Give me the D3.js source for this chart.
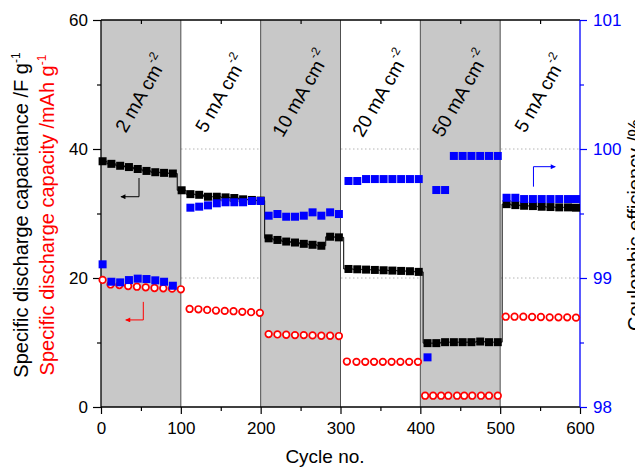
<!DOCTYPE html>
<html><head><meta charset="utf-8">
<script src="https://cdn.jsdelivr.net/npm/d3@7"></script>
<style>
body{margin:0;background:#fff}
svg{display:block}
text{font-family:"Liberation Sans",Arial,Helvetica,sans-serif}
</style>
</head><body>
<svg id="chart" width="635" height="470"></svg>
<script>
// ---------------- data ----------------
const capCycles = [2,13,24,35,46,57,68,79,90,
  101,112,123,134,145,156,167,178,189,200,
  210,221,232,243,254,265,276,287,298,
  310,321,332,343,354,365,376,387,398,
  409,420,431,442,453,464,475,486,497,
  508,519,530,541,552,563,574,585,595];
const capValues = [38.1,37.7,37.4,37.2,36.9,36.6,36.4,36.3,36.2,
  33.6,33.0,32.9,32.6,32.6,32.5,32.4,32.2,32.1,32.0,
  26.15,25.9,25.65,25.5,25.3,25.15,25.0,26.4,26.3,
  21.4,21.35,21.3,21.25,21.2,21.15,21.1,21.05,20.95,
  9.9,9.9,10.05,10.05,10.05,10.05,10.15,10.05,10.05,
  31.45,31.3,31.2,31.15,31.05,31.0,30.95,30.95,30.9];

const capyCycles = [2,12,23,34,45,56,67,78,89,100,
  111,122,133,144,155,166,177,188,199,
  210,221,232,243,254,265,276,287,298,
  308,320,331,342,353,364,375,386,397,
  406,416,426,435,446,455,465,476,486,497,
  507,518,529,540,551,562,573,584,595];
const capyValues = [19.7,19.0,18.9,18.75,18.65,18.55,18.45,18.4,18.35,18.25,
  15.2,15.15,15.05,14.95,14.9,14.85,14.75,14.7,14.6,
  11.3,11.25,11.2,11.15,11.15,11.1,11.05,11.05,11.0,
  7.05,7.0,7.0,7.0,7.0,7.0,7.0,7.0,7.0,
  1.75,1.75,1.75,1.75,1.75,1.75,1.75,1.75,1.75,1.75,
  14.0,14.0,14.0,13.95,13.95,13.9,13.9,13.9,13.85];

const ceCycles = [2,13,24,35,46,57,68,79,90,
  112,123,134,145,156,167,178,189,200,
  210,221,232,243,254,265,276,287,298,
  310,321,332,343,354,365,376,387,398,
  409,420,431,442,453,464,475,486,497,
  508,519,530,541,552,563,574,585,595];
const ceValues = [99.106,98.971,98.966,98.984,98.995,98.992,98.982,98.971,98.94,
  99.545,99.553,99.563,99.579,99.587,99.587,99.587,99.597,99.597,
  99.483,99.496,99.475,99.475,99.483,99.509,99.483,99.509,99.496,
  99.752,99.752,99.767,99.767,99.767,99.767,99.767,99.767,99.767,
  98.385,99.682,99.682,99.946,99.946,99.946,99.946,99.946,99.946,
  99.622,99.622,99.612,99.612,99.612,99.612,99.612,99.612,99.612];

const shadedStarts = [0,200,400];
const regionEdges = [100,200,300,400,500];
const currentLabels = ["2","5","10","20","50","5"];
const labelCycles = [50,150,250,350,450,550];
const xMajor = [0,100,200,300,400,500,600];
const xMinor = [50,150,250,350,450,550];
const yLMajor = [0,20,40,60];
const yLMinor = [10,30,50];
const yRMajor = [98,99,100,101];
const yRMinor = [98.5,99.5,100.5];
const gridValues = [20,40];

// ---------------- setup ----------------
const BLUE = "#0000ff", RED = "#ff0000";
const svg = d3.select("#chart");
const x = d3.scaleLinear().domain([0,600]).range([101,580]);
const yL = d3.scaleLinear().domain([0,60]).range([407,20]);
const yR = d3.scaleLinear().domain([98,101]).range([407,20]);
const fmt = d3.format("d");

// grid
svg.append("g").selectAll("line").data(gridValues).join("line")
  .attr("x1", x(0)).attr("x2", x(600))
  .attr("y1", d=>yL(d)).attr("y2", d=>yL(d))
  .attr("stroke","#b4b4b4").attr("stroke-width",1).attr("stroke-dasharray","1.5,2.5");

// shaded regions
svg.append("g").selectAll("rect").data(shadedStarts).join("rect")
  .attr("x", d=>x(d)).attr("width", d=>x(d+100)-x(d))
  .attr("y", yL(60)).attr("height", yL(0)-yL(60))
  .attr("fill","#c8c8c8");

// region edges
svg.append("g").selectAll("line").data(regionEdges).join("line")
  .attr("x1", d=>x(d)).attr("x2", d=>x(d))
  .attr("y1", yL(60)).attr("y2", yL(0))
  .attr("stroke","#505050").attr("stroke-width",1);

// axes
function styleAxis(g, color, fs){
  g.select(".domain").remove();
  g.selectAll("line").attr("stroke", color).attr("stroke-width",1.2);
  g.selectAll("text").attr("fill", color).attr("font-size", fs)
    .attr("font-family","Liberation Sans, Arial, sans-serif");
}
svg.append("g").attr("transform",`translate(${x(0)},0)`)
  .call(d3.axisLeft(yL).tickValues(yLMajor).tickFormat(fmt).tickSize(8).tickPadding(5).tickSizeOuter(0))
  .call(g=>styleAxis(g,"#000",17));
svg.append("g").attr("transform",`translate(${x(0)},0)`)
  .call(d3.axisLeft(yL).tickValues(yLMinor).tickSize(4).tickFormat("").tickSizeOuter(0))
  .call(g=>styleAxis(g,"#000",17));
svg.append("g").attr("transform",`translate(0,${yL(0)})`)
  .call(d3.axisBottom(x).tickValues(xMajor).tickFormat(fmt).tickSize(7).tickPadding(8).tickSizeOuter(0))
  .call(g=>styleAxis(g,"#000",17));
svg.append("g").attr("transform",`translate(0,${yL(0)})`)
  .call(d3.axisBottom(x).tickValues(xMinor).tickSize(4).tickFormat("").tickSizeOuter(0))
  .call(g=>styleAxis(g,"#000",17));
// top ticks (inward)
svg.append("g").attr("transform",`translate(0,${yL(60)})`)
  .call(d3.axisBottom(x).tickValues(xMinor).tickSize(4).tickFormat("").tickSizeOuter(0))
  .call(g=>styleAxis(g,"#000",17));
svg.append("g").attr("transform",`translate(${x(600)},0)`)
  .call(d3.axisRight(yR).tickValues(yRMajor).tickFormat(fmt).tickSize(7).tickPadding(6).tickSizeOuter(0))
  .call(g=>styleAxis(g,BLUE,17));
svg.append("g").attr("transform",`translate(${x(600)},0)`)
  .call(d3.axisRight(yR).tickValues(yRMinor).tickSize(4).tickFormat("").tickSizeOuter(0))
  .call(g=>styleAxis(g,BLUE,17));

// frame
const fr = svg.append("g").attr("stroke-width",1.3).attr("fill","none");
fr.append("line").attr("x1",x(0)).attr("x2",x(600)).attr("y1",yL(60)).attr("y2",yL(60)).attr("stroke","#000");
fr.append("line").attr("x1",x(0)).attr("x2",x(600)).attr("y1",yL(0)).attr("y2",yL(0)).attr("stroke","#000");
fr.append("line").attr("x1",x(0)).attr("x2",x(0)).attr("y1",yL(0)).attr("y2",yL(60)).attr("stroke","#000");
fr.append("line").attr("x1",x(600)).attr("x2",x(600)).attr("y1",yL(0)).attr("y2",yL(60)).attr("stroke",BLUE);

// data
const cap = capCycles.map((c,i)=>({c, v:capValues[i]}));
const capy = capyCycles.map((c,i)=>({c, v:capyValues[i]}));
const ce = ceCycles.map((c,i)=>({c, v:ceValues[i]}));

svg.append("path").datum(cap)
  .attr("d", d3.line().x(d=>x(d.c)).y(d=>yL(d.v)).curve(d3.curveStep))
  .attr("fill","none").attr("stroke","#000").attr("stroke-width",1);

const S = 8;
svg.append("g").selectAll("rect").data(cap).join("rect")
  .attr("x", d=>x(d.c)-S/2).attr("y", d=>yL(d.v)-S/2)
  .attr("width",S).attr("height",S).attr("fill","#000");

svg.append("g").selectAll("circle").data(capy).join("circle")
  .attr("cx", d=>x(d.c)).attr("cy", d=>yL(d.v)).attr("r",3.3)
  .attr("fill","#fff").attr("stroke",RED).attr("stroke-width",1.7);

svg.append("g").selectAll("rect").data(ce).join("rect")
  .attr("x", d=>x(d.c)-S/2).attr("y", d=>yR(d.v)-S/2)
  .attr("width",S).attr("height",S).attr("fill",BLUE);

// arrows (annotation, data coords)
const defs = svg.append("defs");
[["ahK","#000"],["ahR",RED],["ahB",BLUE]].forEach(([id,col])=>{
  defs.append("marker").attr("id",id).attr("viewBox","0 0 10 10")
    .attr("refX",9).attr("refY",5).attr("markerWidth",9).attr("markerHeight",5)
    .attr("markerUnits","userSpaceOnUse").attr("orient","auto")
    .append("path").attr("d","M0,0L10,5L0,10z").attr("fill",col);
});
function arrow(pts, col, id){
  svg.append("path").attr("d", d3.line()(pts)).attr("fill","none")
    .attr("stroke",col).attr("stroke-width",1).attr("marker-end",`url(#${id})`);
}
arrow([[x(47.6),yL(35.5)],[x(47.6),yL(32.6)],[x(25),yL(32.6)]],"#000","ahK");
arrow([[x(53),yL(16.3)],[x(53),yL(13.5)],[x(31),yL(13.5)]],RED,"ahR");
arrow([[x(541.7),yR(99.708)],[x(541.7),yR(99.863)],[x(569),yR(99.863)]],BLUE,"ahB");

// current density labels
const lab = svg.append("g").selectAll("text").data(currentLabels).join("text")
  .attr("transform",(d,i)=>`translate(${x(labelCycles[i])},${yL(48.6)}) rotate(-60)`)
  .attr("text-anchor","middle").attr("dominant-baseline","central")
  .attr("font-size",19).attr("fill","#000");
lab.append("tspan").text(d=>d+" mA cm");
lab.append("tspan").attr("font-size",12).attr("dy",-8).text("-2");

// axis titles
const t1 = svg.append("text").attr("transform","translate(28,215) rotate(-90)")
  .attr("text-anchor","middle").attr("font-size",20).attr("fill","#000");
t1.append("tspan").text("Specific discharge capacitance /F g");
t1.append("tspan").attr("font-size",12).attr("dy",-8).text("-1");
const t2 = svg.append("text").attr("transform","translate(54,215) rotate(-90)")
  .attr("text-anchor","middle").attr("font-size",20).attr("fill",RED);
t2.append("tspan").text("Specific discharge capacity /mAh g");
t2.append("tspan").attr("font-size",12).attr("dy",-8).text("-1");
svg.append("text").attr("transform","translate(642,225) rotate(-90)")
  .attr("text-anchor","middle").attr("font-size",20).attr("fill","#000")
  .text("Coulombic efficiency /%");
svg.append("text").attr("x",325).attr("y",463).attr("text-anchor","middle")
  .attr("font-size",19).attr("fill","#000").text("Cycle no.");
</script>
</body></html>
